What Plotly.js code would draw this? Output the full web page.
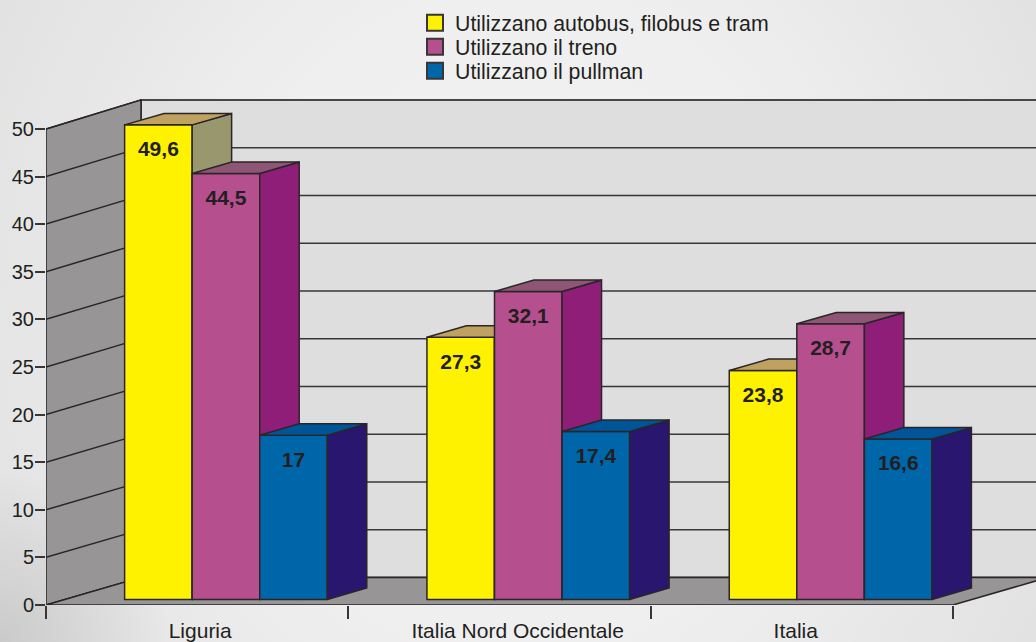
<!DOCTYPE html>
<html>
<head>
<meta charset="utf-8">
<script src="https://cdn.plot.ly/plotly-3.0.1.min.js"></script>
<style>
html,body{margin:0;padding:0;width:1036px;height:642px;overflow:hidden;
background:radial-gradient(circle 170px at 0 100%, rgba(190,190,190,.65), rgba(190,190,190,0)),
radial-gradient(ellipse 72% 130% at 50% 50%, #f2f2f2 0%, #efefef 40%, #e3e3e3 75%, #dcdcdc 100%);}
#chart{width:1036px;height:642px;}
</style>
</head>
<body>
<div id="chart"></div>
<script>
// ---- data ----
const categories = ["Liguria", "Italia Nord Occidentale", "Italia"];
const seriesNames = ["Utilizzano autobus, filobus e tram", "Utilizzano il treno", "Utilizzano il pullman"];
const bus = [49.6, 27.3, 23.8];
const treno = [44.5, 32.1, 28.7];
const pullman = [17, 17.4, 16.6];
const yTicks = [0, 5, 10, 15, 20, 25, 30, 35, 40, 45, 50];

// ---- styles ----
const frontColors = ["#fff200", "#b54f8d", "#0066aa"];
const topColors = ["#bfa260", "#8f5574", "#005599"];
const sideColors = ["#99976e", "#8f1e78", "#29166f"];
const edge = "#2a2627";
const textColor = "#231f20";
const FONT = "'Liberation Sans', Arial, sans-serif";

// ---- pseudo-3D geometry, in axis units ----
const X_MAX = 3.2746, Y_MAX = 54.09;
const wallDx = 0.3142;
const backY = v => 2.9 + v * 1.003;
const barWidth = 0.2235, groupStart = 0.26;
const barDx = 0.1305, barDy = 1.2;
const footY = 0.58, lift = 0.83;
const labelDrop = 2.75;

const traces = [];
const fillPoly = (xs, ys, fill, lineColor, lw, xa, ya) => ({
  type: "scatter", mode: "lines", x: xs, y: ys, fill: "toself", fillcolor: fill,
  line: {color: lineColor, width: lw}, hoverinfo: "skip", showlegend: false,
  cliponaxis: false, xaxis: xa, yaxis: ya
});

// back wall
traces.push(fillPoly([wallDx, X_MAX + 0.2, X_MAX + 0.2, wallDx, wallDx],
  [backY(0), backY(0), backY(50), backY(50), backY(0)], "#dedede", "#4a4647", 2, "x", "y"));
// grid on back wall
{
  const gx = [], gy = [];
  yTicks.slice(1, -1).forEach(v => { gx.push(wallDx, X_MAX + 0.2, null); gy.push(backY(v), backY(v), null); });
  traces.push({type: "scatter", mode: "lines", x: gx, y: gy, line: {color: "#3a3637", width: 1.5},
    hoverinfo: "skip", showlegend: false, cliponaxis: false, xaxis: "x", yaxis: "y"});
}
// left wall
traces.push(fillPoly([0, wallDx, wallDx, 0, 0], [0, backY(0), backY(50), 50, 0], "#979596", edge, 1.5, "x", "y"));
{
  const gx = [], gy = [];
  yTicks.forEach(v => { gx.push(0, wallDx, null); gy.push(v, backY(v), null); });
  traces.push({type: "scatter", mode: "lines", x: gx, y: gy, line: {color: edge, width: 1.5},
    hoverinfo: "skip", showlegend: false, cliponaxis: false, xaxis: "x", yaxis: "y"});
}
// floor
traces.push(fillPoly([0, 3, 3 + wallDx, wallDx, 0], [0, 0, backY(0), backY(0), 0], "#979596", edge, 1.5, "x", "y"));

// bars: one overlaid subplot per series so that the faces stack in drawing order
const allValues = [bus, treno, pullman];
allValues.forEach((vals, s) => {
  const xa = "x" + (s + 2), ya = "y" + (s + 2);
  const centers = vals.map((v, c) => c + groupStart + (s + 0.5) * barWidth);
  traces.push({
    type: "bar", x: centers, y: vals.map(v => v + lift - footY), base: footY, width: barWidth,
    marker: {color: frontColors[s], line: {color: edge, width: 1.5}},
    name: seriesNames[s], showlegend: false, hoverinfo: "skip", xaxis: xa, yaxis: ya
  });
  const sx = [], sy = [], tx = [], ty = [];
  vals.forEach((v, c) => {
    const xl = centers[c] - barWidth / 2, xr = centers[c] + barWidth / 2, top = v + lift;
    sx.push(xr, xr + barDx, xr + barDx, xr, xr, null);
    sy.push(footY, footY + barDy, top + barDy, top, footY, null);
    tx.push(xl, xl + barDx, xr + barDx, xr, xl, null);
    ty.push(top, top + barDy, top + barDy, top, top, null);
  });
  traces.push(fillPoly(sx, sy, sideColors[s], edge, 1.5, xa, ya));
  traces.push(fillPoly(tx, ty, topColors[s], edge, 1.5, xa, ya));
});

// value labels
traces.push({
  type: "scatter", mode: "text", cliponaxis: false, showlegend: false, hoverinfo: "skip",
  x: allValues.flatMap((vals, s) => vals.map((v, c) => c + groupStart + (s + 0.5) * barWidth)),
  y: allValues.flatMap(vals => vals.map(v => v + lift - labelDrop)),
  text: allValues.flatMap(vals => vals.map(v => String(v).replace(".", ","))),
  textposition: "middle center",
  textfont: {family: FONT, size: 21, color: textColor, weight: 700},
  xaxis: "x4", yaxis: "y4"
});

// legend keys
["legend", "legend2", "legend3"].forEach((lg, s) => {
  traces.push({
    type: "scatter", mode: "markers", x: [null], y: [null], name: seriesNames[s], legend: lg,
    marker: {symbol: "square", size: 16, color: frontColors[s], line: {color: "#3a3637", width: 2}},
    xaxis: "x", yaxis: "y"
  });
});

const hiddenX = over => ({range: [0, X_MAX], visible: false, fixedrange: true, overlaying: over, autorange: false});
const hiddenY = over => ({range: [0, Y_MAX], visible: false, fixedrange: true, overlaying: over, autorange: false});
const legendAt = yPx => ({
  xref: "container", yref: "container", x: 415 / 1036, y: 1 - yPx / 642,
  xanchor: "left", yanchor: "middle", bgcolor: "rgba(0,0,0,0)", borderwidth: 0,
  font: {family: FONT, size: 21.3, color: textColor}, itemclick: false, itemdoubleclick: false
});

const layout = {
  width: 1036, height: 642, autosize: false,
  margin: {l: 46, r: 0, t: 90, b: 36.5, pad: 0, autoexpand: false},
  paper_bgcolor: "rgba(0,0,0,0)", plot_bgcolor: "rgba(0,0,0,0)",
  font: {family: FONT, color: textColor, size: 20},
  barmode: "overlay",
  showlegend: true,
  xaxis: {
    range: [0, X_MAX], autorange: false, fixedrange: true, zeroline: false, showgrid: false, showline: false,
    tickmode: "array", tickvals: [0.51, 1.56, 2.48], ticktext: categories,
    ticks: "outside", ticklen: 7, tickcolor: "rgba(0,0,0,0)", tickwidth: 1,
    tickfont: {family: FONT, size: 21, color: textColor},
    minor: {tickmode: "array", tickvals: [0, 1, 2, 3], ticks: "outside", ticklen: 13, tickcolor: "#3a3637", tickwidth: 1.5, showgrid: false}
  },
  yaxis: {
    range: [0, Y_MAX], autorange: false, fixedrange: true, zeroline: false, showgrid: false, showline: false,
    tickmode: "array", tickvals: yTicks, ticktext: yTicks.map(String),
    ticks: "outside", ticklen: 10, tickcolor: "#3a3637", tickwidth: 1.5, ticklabelstandoff: -3,
    tickfont: {family: FONT, size: 20, color: textColor}
  },
  xaxis2: hiddenX("x"), yaxis2: hiddenY("y"),
  xaxis3: hiddenX("x"), yaxis3: hiddenY("y"),
  xaxis4: hiddenX("x"), yaxis4: hiddenY("y"),
  legend: legendAt(23), legend2: legendAt(47), legend3: legendAt(71)
};

Plotly.newPlot("chart", traces, layout, {displayModeBar: false});
</script>
</body>
</html>
